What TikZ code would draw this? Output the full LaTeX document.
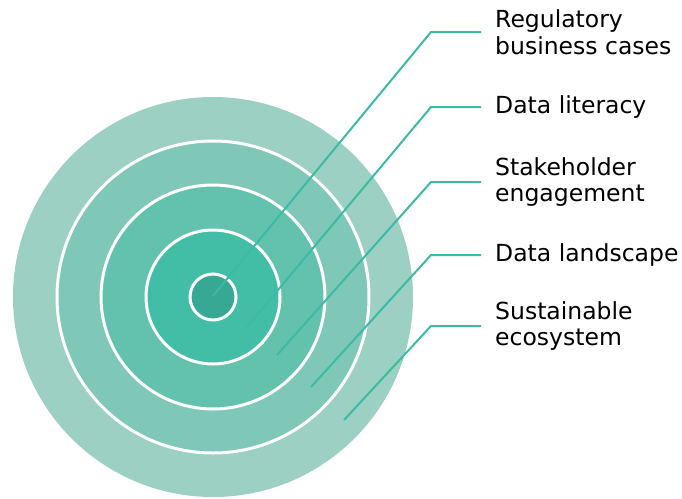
\documentclass[tikz,border=0pt]{standalone}
\usepackage{fontspec}
\setmainfont{DejaVu Sans}
\definecolor{ringA}{HTML}{9CD0C3}
\definecolor{ringB}{HTML}{7FC8B7}
\definecolor{ringC}{HTML}{63C2AE}
\definecolor{ringD}{HTML}{42BDA6}
\definecolor{ringE}{HTML}{36A893}
\definecolor{leader}{HTML}{3ABBA3}
\begin{document}
\begin{tikzpicture}[x=1pt,y=-1pt,
  ring/.style={circle,inner sep=0pt,draw=white,line width=3pt},
  lbl/.style={anchor=west,align=left,inner sep=0pt,font=\fontsize{23.5}{26.5}\selectfont,text=black},
  lead/.style={draw=leader,line width=2pt}]
\useasboundingbox (0,0) rectangle (682,498);
\node[ring,fill=ringA,draw=none,minimum size=400pt] (c1) at (213,297) {};
\node[ring,fill=ringB,minimum size=312pt] (c2) at (213,297) {};
\node[ring,fill=ringC,minimum size=224pt] (c3) at (213,297) {};
\node[ring,fill=ringD,minimum size=134pt] (c4) at (213,297) {};
\node[ring,fill=ringE,minimum size=46pt] (c5) at (213,297) {};
\node[lbl] (t1) at (495,32) {Regulatory\\business cases};
\node[lbl] (t2) at (495,107) {Data literacy};
\node[lbl] (t3) at (495,182) {Stakeholder\\engagement};
\node[lbl] (t4) at (495,255) {Data landscape};
\node[lbl] (t5) at (495,326) {Sustainable\\ecosystem};
\coordinate (e1) at (213,296);
\coordinate (e2) at (247,327);
\coordinate (e3) at (277,355);
\coordinate (e4) at (311,387);
\coordinate (e5) at (344,420);
\coordinate (k1) at (431,32);
\coordinate (k2) at (431,107);
\coordinate (k3) at (431,182);
\coordinate (k4) at (431,255);
\coordinate (k5) at (431,326);
\draw[lead] (e1) -- (k1) -- ([xshift=-14pt]t1.west);
\draw[lead] (e2) -- (k2) -- ([xshift=-14pt]t2.west);
\draw[lead] (e3) -- (k3) -- ([xshift=-14pt]t3.west);
\draw[lead] (e4) -- (k4) -- ([xshift=-14pt]t4.west);
\draw[lead] (e5) -- (k5) -- ([xshift=-14pt]t5.west);
\end{tikzpicture}
\end{document}
